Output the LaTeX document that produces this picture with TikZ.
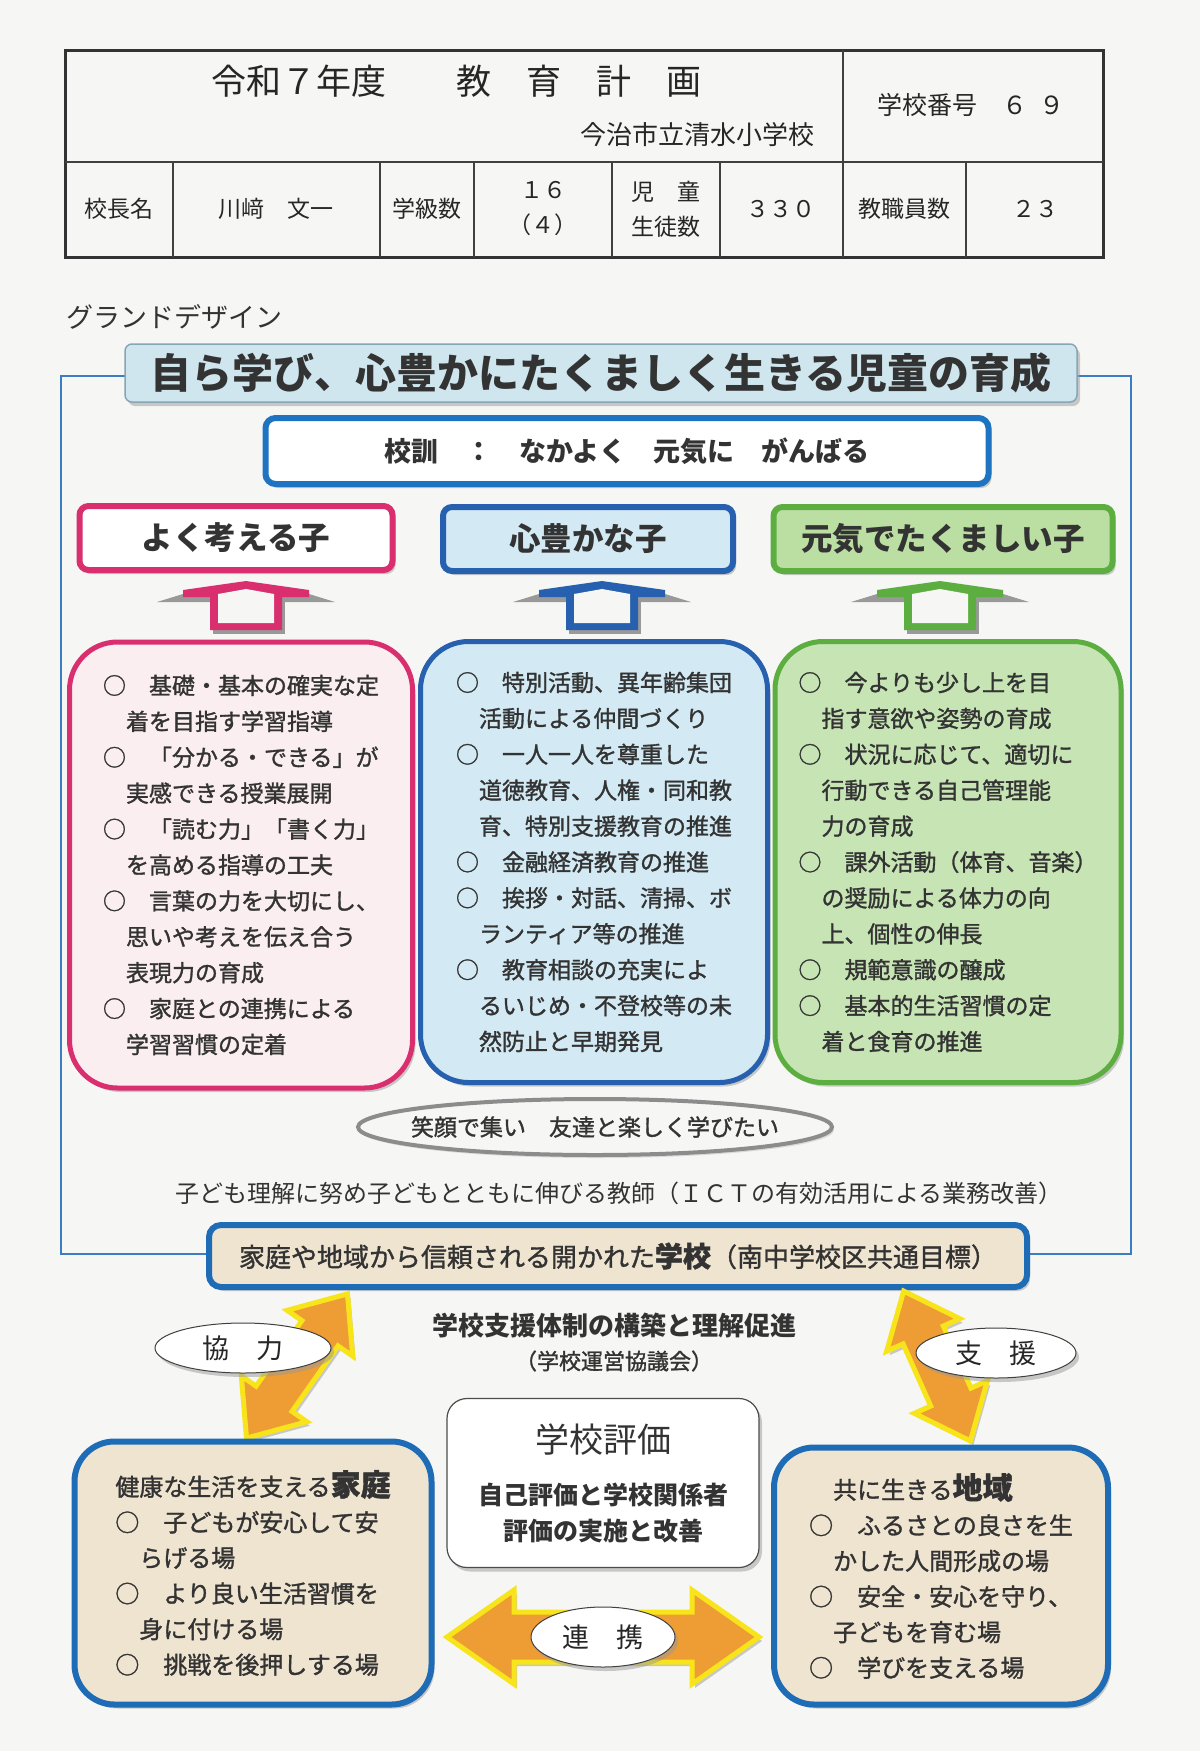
\documentclass[tikz,border=0pt]{standalone}
\usepackage{fontspec}
\setmainfont{Noto Sans CJK JP}
\newfontfamily\medium{Noto Sans CJK JP}[FakeBold=1.3]
\usepackage{tikz}
\usetikzlibrary{positioning,shapes.geometric,shadows}
\definecolor{paper}{HTML}{F6F6F4}
\definecolor{inkgray}{HTML}{333333}
\definecolor{framblue}{HTML}{3C7DC2}
\definecolor{bannerfill}{HTML}{CFE6EE}
\definecolor{bannerline}{HTML}{86A6B6}
\definecolor{mottoblue}{HTML}{1E74C0}
\definecolor{pinkline}{HTML}{D92F6E}
\definecolor{pinkfill}{HTML}{FBEEF1}
\definecolor{blueline}{HTML}{2660AE}
\definecolor{bluefill}{HTML}{D3EAF4}
\definecolor{greenline}{HTML}{5DAE40}
\definecolor{greenfill}{HTML}{C7E4B5}
\definecolor{greenhead}{HTML}{BBDFA3}
\definecolor{beige}{HTML}{EFE4D0}
\definecolor{boxblue}{HTML}{1F6CB6}
\definecolor{arroworange}{HTML}{EE9C34}
\definecolor{arrowyellow}{HTML}{F8E41A}
\newcommand{\fsz}[2]{\fontsize{#1pt}{#2pt}\selectfont}
\tikzset{
  dropgray/.style={drop shadow={shadow xshift=3pt, shadow yshift=-4pt, fill=black!40}},
  tableframe/.style={draw=black!80, line width=3pt},
  tablerule/.style={draw=black!75, line width=1.6pt},
  cell/.style={font=\fsz{23}{35}, text=black!85, align=center},
  banner/.style={draw=bannerline, line width=1.5pt, fill=bannerfill, rounded corners=7pt, minimum width=952pt, minimum height=58pt, font=\bfseries\fsz{41}{46}, text=inkgray, dropgray},
  motto/.style={draw=mottoblue, line width=6pt, fill=white, rounded corners=10pt, minimum width=723pt, minimum height=66pt, font=\bfseries\fsz{27}{30}, text=inkgray, dropgray},
  aimhead/.style={line width=6pt, rounded corners=9pt, minimum height=64pt, font=\bfseries\fsz{31.5}{36}, text=inkgray, dropgray},
  aimbox/.style={line width=5pt, rounded corners=48pt, align=left, font=\medium\fsz{23}{35.9}, text=inkgray, dropgray},
  goalbox/.style={draw=boxblue, line width=6pt, fill=beige, rounded corners=12pt, minimum width=818pt, minimum height=62pt, font=\medium\fsz{26}{30}, text=inkgray, dropgray},
  homebox/.style={draw=boxblue, line width=6pt, fill=beige, rounded corners=40pt, align=left, font=\medium\fsz{24}{35.6}, text=inkgray, dropgray},
  evalbox/.style={draw=black!70, line width=1.2pt, fill=white, rounded corners=20pt, minimum width=312pt, minimum height=169pt, align=center, font=\bfseries\fsz{25}{36}, text=inkgray, dropgray},
  oval/.style={ellipse, draw=black!75, line width=1pt, fill=white, inner sep=0pt, font=\fsz{27}{30}, text=black!85, dropgray},
  smileoval/.style={draw=black!45, fill=paper, line width=4pt, drop shadow={shadow xshift=2pt, shadow yshift=-3pt, fill=black!25}},
  bolt/.style={fill=arroworange, draw=arrowyellow, line width=5pt, line join=miter, dropgray},
  note/.style={font=\fsz{24}{30}, text=inkgray}
}
\begin{document}
\begin{tikzpicture}[x=1pt, y=-1pt]
\fill[paper] (0,0) rectangle (1200,1751);
\useasboundingbox (0,0) rectangle (1200,1751);

% header table
\draw[tableframe] (65,50) rectangle (1103,257);
\draw[tablerule] (65,162) -- (1103,162);
\draw[tablerule] (843,50) -- (843,257);
\foreach \x in {173,380,474,612,720,966}
  \draw[tablerule] (\x,162) -- (\x,257);
\node[cell, font=\fsz{35}{40}] (plan) at (456,81) {令和７年度　　教　育　計　画};
\node[cell, font=\fsz{26}{30}] (school) at (697,135) {今治市立清水小学校};
\node[cell, font=\fsz{25}{30}] (schoolno) at (971,105) {学校番号　６\hspace{0.5em}９};
\node[cell] (head) at (119,209) {校長名};
\node[cell] (headname) at (276,209) {川﨑　文一};
\node[cell] (classes) at (427,209) {学級数};
\node[cell] (classno) at (543,209) {１６\\（４）};
\node[cell] (pupils) at (666,209) {児　童\\生徒数};
\node[cell] (pupilno) at (781,209) {３３０};
\node[cell] (staff) at (904,209) {教職員数};
\node[cell] (staffno) at (1035,209) {２３};

% grand design
\node[anchor=west, font=\fsz{27}{30}, text=black!80] (grand) at (63,317) {グランドデザイン};
\draw[framblue, line width=1.6pt] (61,376) rectangle (1131,1254);
\node[banner] (aim) at (601,373) {自ら学び、心豊かにたくましく生きる児童の育成};
\node[motto] (motto) at (627,451) {校訓　：　なかよく　元気に　がんばる};

\node[aimhead, draw=pinkline, fill=white, minimum width=313pt] (think) at (236,538) {よく考える子};
\node[aimhead, draw=blueline, fill=bluefill, minimum width=290pt] (heart) at (588,539) {心豊かな子};
\node[aimhead, draw=greenline, fill=greenhead, minimum width=339pt] (strong) at (943,539) {元気でたくましい子};

\foreach \cx/\col in {246/pinkline, 602/blueline, 940/greenline} {
  \fill[black!40] (\cx-89,602) -- (\cx-63,594) -- (\cx+63,594) -- (\cx+89,602) -- cycle;
  \fill[black!40, shift={(3pt,-4pt)}] (\cx-36,597) -- (\cx+36,597) -- (\cx+36,630) -- (\cx-36,630) -- cycle;
  \fill[\col] (\cx-63,597) -- (\cx-63,590) -- (\cx,581) -- (\cx+63,590) -- (\cx+63,597)
    -- (\cx+36,597) -- (\cx+36,630) -- (\cx-36,630) -- (\cx-36,597) -- cycle;
  \fill[paper] (\cx-28,594) -- (\cx,589) -- (\cx+28,594) -- (\cx+28,623) -- (\cx-28,623) -- cycle;
}

\node[aimbox, draw=pinkline, fill=pinkfill, minimum width=343pt, minimum height=446pt] (thinkbox) at (241,865) {%
○　基礎・基本の確実な定\\
　着を目指す学習指導\\
○　「分かる・できる」が\\
　実感できる授業展開\\
○　「読む力」「書く力」\\
　を高める指導の工夫\\
○　言葉の力を大切にし、\\
　思いや考えを伝え合う\\
　表現力の育成\\
○　家庭との連携による\\
　学習習慣の定着};
\node[aimbox, draw=blueline, fill=bluefill, minimum width=347pt, minimum height=441pt] (heartbox) at (594,862) {%
○　特別活動、異年齢集団\\
　活動による仲間づくり\\
○　一人一人を尊重した\\
　道徳教育、人権・同和教\\
　育、特別支援教育の推進\\
○　金融経済教育の推進\\
○　挨拶・対話、清掃、ボ\\
　ランティア等の推進\\
○　教育相談の充実によ\\
　るいじめ・不登校等の未\\
　然防止と早期発見};
\node[aimbox, draw=greenline, fill=greenfill, minimum width=346pt, minimum height=441pt] (strongbox) at (948,862) {%
○　今よりも少し上を目\\
　指す意欲や姿勢の育成\\
○　状況に応じて、適切に\\
　行動できる自己管理能\\
　力の育成\\
○　課外活動（体育、音楽）\\
　の奨励による体力の向\\
　上、個性の伸長\\
○　規範意識の醸成\\
○　基本的生活習慣の定\\
　着と食育の推進};

\coordinate (smilec) at (595,1127);
\draw[smileoval] (smilec) ellipse [x radius=237pt, y radius=28pt];
\node[font=\medium\fsz{23}{30}, text=inkgray] (smile) at (smilec) {笑顔で集い　友達と楽しく学びたい};
\node[note] (teacher) at (619,1193) {子ども理解に努め子どもとともに伸びる教師（ＩＣＴの有効活用による業務改善）};
\node[goalbox] (goal) at (618,1256) {家庭や地域から信頼される開かれた{\bfseries\fsz{28}{30}学校}（南中学校区共通目標）};

\node[font=\bfseries\fsz{26}{30}, text=inkgray] (support) at (614,1326) {学校支援体制の構築と理解促進};
\node[font=\medium\fsz{22}{26}, text=inkgray] (council) at (614,1361) {（学校運営協議会）};

% block arrows
\foreach \cx/\cy/\ang/\len/\hl/\hw/\sw in {603/1637/0/156/67/47/25, 297/1366/55/88/48/40/22, 937/1366/-66/82/48/40/22}
  \draw[bolt, shift={(\cx,\cy)}, rotate=\ang] (\len,0) -- ({\len-\hl},\hw) -- ({\len-\hl},\sw)
    -- ({-\len+\hl},\sw) -- ({-\len+\hl},\hw) -- (-\len,0) -- ({-\len+\hl},-\hw)
    -- ({-\len+\hl},-\sw) -- ({\len-\hl},-\sw) -- ({\len-\hl},-\hw) -- cycle;
\node[oval, minimum width=176pt, minimum height=50pt] (coop) at (243,1348) {協　力};
\node[oval, minimum width=160pt, minimum height=50pt] (aid) at (996,1353) {支　援};

\node[evalbox] (eval) at (603,1483) {{\mdseries\fsz{34}{40}学校評価}\\[16pt]
  自己評価と学校関係者\\評価の実施と改善};

\node[homebox, minimum width=357pt, minimum height=263pt] (home) at (253,1573) {%
健康な生活を支える{\bfseries\fsz{30}{35.6}家庭}\\
○　子どもが安心して安\\
　らげる場\\
○　より良い生活習慣を\\
　身に付ける場\\
○　挑戦を後押しする場};
\node[homebox, minimum width=334pt, minimum height=257pt] (town) at (941,1576) {%
　共に生きる{\bfseries\fsz{30}{35.6}地域}\\
○　ふるさとの良さを生\\
　かした人間形成の場\\
○　安全・安心を守り、\\
　子どもを育む場\\
○　学びを支える場};

\node[oval, minimum width=144pt, minimum height=60pt] (link) at (603,1637) {連　携};
\end{tikzpicture}
\end{document}
